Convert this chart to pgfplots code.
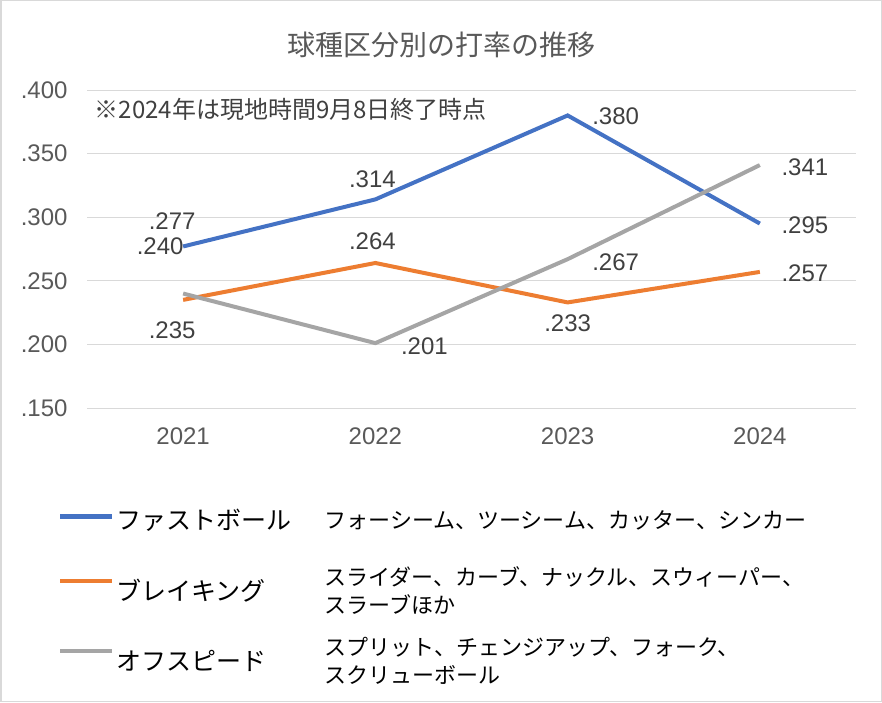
\documentclass[border=0pt]{standalone}
\usepackage{pgfplots}
\pgfplotsset{compat=1.18}
\usepackage{fontspec}
\setmainfont{Liberation Sans}
\newfontfamily\jp{Noto Sans CJK JP}
\definecolor{cblue}{HTML}{4472C4}
\definecolor{corange}{HTML}{ED7D31}
\definecolor{cgray}{HTML}{A5A5A5}
\definecolor{gridc}{HTML}{D9D9D9}
\definecolor{txt}{HTML}{595959}
\definecolor{dtxt}{HTML}{404040}
\begin{document}
\begin{tikzpicture}
\useasboundingbox (0pt,0pt) rectangle (882pt,702pt);
\draw[gridc, line width=1.5pt] (0.75pt,0.75pt) rectangle (881.25pt,701.25pt);
\node[font=\jp\fontsize{28}{32}\selectfont, text=txt] at (441pt,657pt) {球種区分別の打率の推移};
\begin{axis}[
  at={(87pt,294pt)}, anchor=south west, scale only axis,
  width=769pt, height=318pt,
  xmin=-0.5, xmax=3.5, ymin=0.15, ymax=0.4,
  xtick={0,1,2,3}, xticklabels={2021,2022,2023,2024},
  ytick={0.15,0.2,0.25,0.3,0.35,0.4},
  yticklabels={.150,.200,.250,.300,.350,.400},
  axis line style={draw=none}, major tick length=0pt,
  ymajorgrids, grid style={gridc, line width=1pt},
  tick label style={font=\fontsize{24}{27}\selectfont, text=txt},
  yticklabel style={xshift=-16pt},
  xticklabel style={yshift=-16pt},
  clip=false,
  legend style={at={(axis description cs:-0.038,-0.311)}, anchor=north west,
    draw=none, fill=none, inner sep=0pt, row sep=38.5pt,
    cells={anchor=west}, font=\jp},
  legend image code/.code={\draw[#1, line width=4.5pt] (0pt,0pt) -- (52pt,0pt);},
  every axis plot/.append style={line width=4pt},
]
\addplot[cblue] coordinates {(0,0.277) (1,0.314) (2,0.380) (3,0.295)};
\addlegendentry{\parbox[c]{208pt}{\fontsize{25}{28}\selectfont ファストボール}\parbox[c]{520pt}{\fontsize{22}{28}\selectfont フォーシーム、ツーシーム、カッター、シンカー}}
\addplot[corange] coordinates {(0,0.235) (1,0.264) (2,0.233) (3,0.257)};
\addlegendentry{\parbox[c]{208pt}{\fontsize{25}{28}\selectfont ブレイキング}\parbox[c]{520pt}{\fontsize{22}{28}\selectfont スライダー、カーブ、ナックル、スウィーパー、\\スラーブほか}}
\addplot[cgray] coordinates {(0,0.240) (1,0.201) (2,0.267) (3,0.341)};
\addlegendentry{\parbox[c]{208pt}{\fontsize{25}{28}\selectfont オフスピード}\parbox[c]{520pt}{\fontsize{22}{28}\selectfont スプリット、チェンジアップ、フォーク、\\スクリューボール}}
\tikzset{lbl/.style={font=\fontsize{24}{27}\selectfont, text=dtxt, inner sep=0pt}}
\node[lbl, xshift=-11pt, yshift=25pt] at (axis cs:0,0.277) {.277};
\node[lbl, xshift=-3pt, yshift=20pt] at (axis cs:1,0.314) {.314};
\node[lbl, xshift=48pt, yshift=-1pt] at (axis cs:2,0.380) {.380};
\node[lbl, xshift=45pt, yshift=-2pt] at (axis cs:3,0.295) {.295};
\node[lbl, xshift=-11pt, yshift=-30pt] at (axis cs:0,0.235) {.235};
\node[lbl, xshift=-3pt, yshift=22pt] at (axis cs:1,0.264) {.264};
\node[lbl, xshift=0pt, yshift=-21pt] at (axis cs:2,0.233) {.233};
\node[lbl, xshift=45pt, yshift=-1pt] at (axis cs:3,0.257) {.257};
\node[lbl, xshift=-23pt, yshift=47pt] at (axis cs:0,0.240) {.240};
\node[lbl, xshift=49pt, yshift=-3pt] at (axis cs:1,0.201) {.201};
\node[lbl, xshift=48pt, yshift=-3pt] at (axis cs:2,0.267) {.267};
\node[lbl, xshift=45pt, yshift=-2pt] at (axis cs:3,0.341) {.341};
\node[anchor=west, font=\jp\fontsize{24}{27}\selectfont, text=dtxt, inner sep=0pt] at (axis description cs:0.01,0.94) {※2024年は現地時間9月8日終了時点};
\end{axis}
\end{tikzpicture}
\end{document}
